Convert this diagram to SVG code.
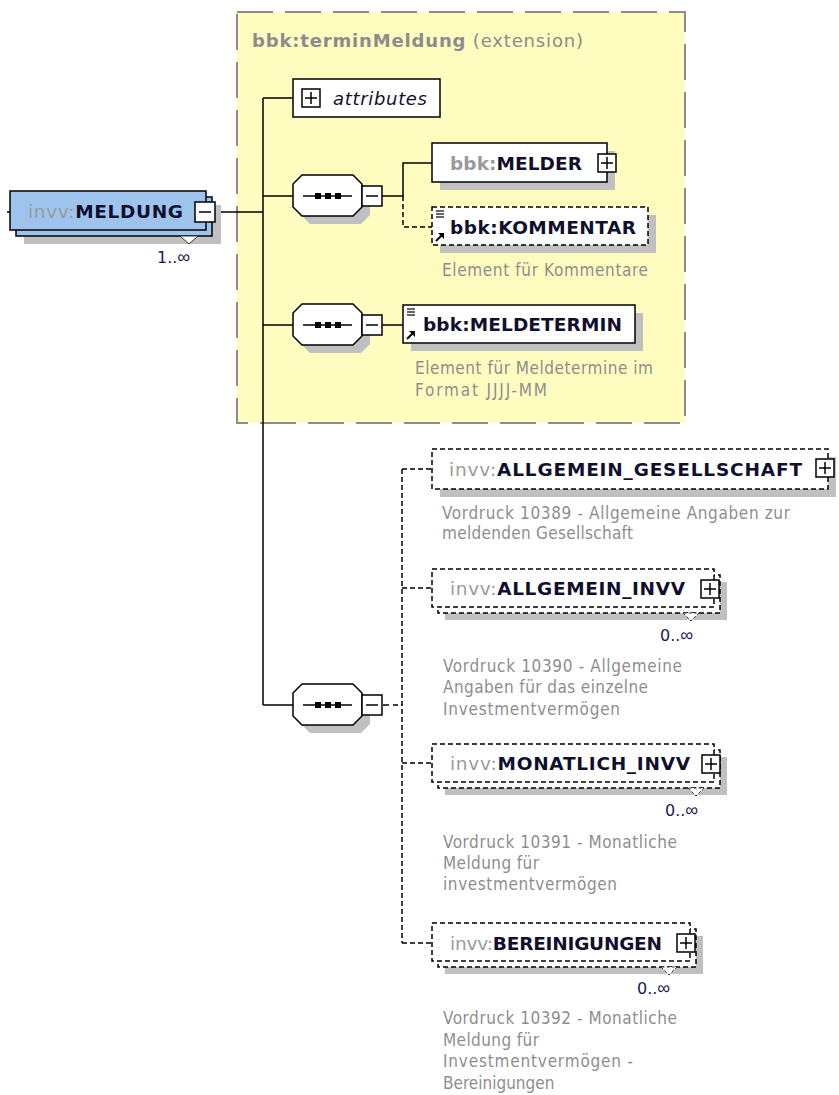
<svg xmlns="http://www.w3.org/2000/svg" width="839" height="1095" viewBox="0 0 839 1095">
<style>
.lbl{font-family:"DejaVu Sans","Liberation Sans",sans-serif;font-size:18.5px;font-weight:bold;fill:#10102e}
.pfx{fill:#9a9a9a}
.pfxn{fill:#9a9a9a;font-weight:normal}
.desc{font-family:"DejaVu Sans Condensed","DejaVu Sans",sans-serif;font-size:17px;fill:#8e8e8e}
.mult{font-family:"DejaVu Sans","Liberation Sans",sans-serif;font-size:16px;fill:#1a1a50}
.inf{font-family:"Liberation Sans",sans-serif;font-size:18px}
.box{fill:#fff;stroke:#000;stroke-width:1.5}
.dbox{fill:#fff;stroke:#000;stroke-width:1.5;stroke-dasharray:5 3}
.shadow{fill:#c0c0c0}
.pm{fill:#fff;stroke:#000;stroke-width:1.5}
.pml{stroke:#000;stroke-width:1.5;fill:none}
.conn{stroke:#000;stroke-width:1.5;fill:none}
.dconn{stroke:#000;stroke-width:1.5;fill:none;stroke-dasharray:5 3}
.notch{fill:#fff;stroke:#333;stroke-width:1}
</style>
<defs>
<g id="dots"><line x1="-25" y1="0" x2="24" y2="0" stroke="#000" stroke-width="1.5"/><rect x="-13" y="-3" width="6" height="6" fill="#000"/><rect x="-3" y="-3" width="6" height="6" fill="#000"/><rect x="7" y="-3" width="6" height="6" fill="#000"/></g>
<path id="oct" d="M9,0 H60 L69,9 V32 L60,41 H9 L0,32 V9 Z"/>
<g id="refico"><line x1="0" y1="0" x2="8" y2="0" stroke="#000" stroke-width="1.2"/><line x1="0" y1="3" x2="8" y2="3" stroke="#000" stroke-width="1.2"/><line x1="0" y1="6" x2="8" y2="6" stroke="#000" stroke-width="1.2"/></g>
<g id="arrow"><path d="M0,8 L6,2" stroke="#000" stroke-width="2"/><path d="M2,0 H8 V6 Z" fill="#000"/></g>
</defs>

<!-- extension area -->
<g id="extension">
<rect x="237" y="12" width="448" height="411" fill="#fffcc0" stroke="#8c8c8c" stroke-width="2" stroke-dasharray="36 12"/>
<text x="252" y="47" font-family="DejaVu Sans, Liberation Sans, sans-serif" font-size="18" fill="#8c8c8c" textLength="331"><tspan font-weight="bold">bbk:terminMeldung</tspan> (extension)</text>
</g>

<!-- connectors -->
<g id="connectors">
<line class="conn" x1="7" y1="212" x2="10" y2="212"/>
<line class="conn" x1="215" y1="212" x2="263" y2="212"/>
<line class="conn" x1="263" y1="98" x2="263" y2="705"/>
<line class="conn" x1="263" y1="98" x2="293" y2="98"/>
<line class="conn" x1="263" y1="196" x2="293" y2="196"/>
<line class="conn" x1="263" y1="325" x2="293" y2="325"/>
<line class="conn" x1="263" y1="705" x2="293" y2="705"/>
<polyline class="conn" points="382,196 403,196 403,163 432,163"/>
<polyline class="dconn" points="403,196 403,227 432,227"/>
<line class="conn" x1="382" y1="325" x2="403" y2="325"/>
<line class="conn" x1="383" y1="705" x2="389" y2="705"/>
<line class="dconn" x1="393" y1="705" x2="402" y2="705"/>
<line class="dconn" x1="402" y1="469" x2="402" y2="943"/>
<line class="dconn" x1="402" y1="469" x2="432" y2="469"/>
<line class="dconn" x1="402" y1="588" x2="432" y2="588"/>
<line class="dconn" x1="402" y1="763" x2="432" y2="763"/>
<line class="dconn" x1="402" y1="943" x2="432" y2="943"/>
</g>

<!-- root -->
<g id="MELDUNG">
<rect class="shadow" x="24" y="205" width="197" height="39"/>
<rect x="16" y="197" width="196" height="39" fill="#9ec4ee" stroke="#000" stroke-width="1.5"/>
<rect x="10" y="191" width="196" height="39" fill="#9ec4ee" stroke="#000" stroke-width="1.5"/>
<polygon class="notch" points="180,236 189,244 198,236"/>
<text class="lbl" x="28" y="218" textLength="155"><tspan class="pfxn">invv:</tspan>MELDUNG</text>
<rect class="pm" x="195" y="202" width="20" height="20"/>
<line class="pml" x1="199" y1="212" x2="211" y2="212"/>
<text class="mult" x="157" y="263">1..<tspan class="inf">∞</tspan></text>
</g>

<g id="attributes">
<rect class="box" x="293" y="79" width="147" height="38"/>
<rect class="pm" x="302" y="89" width="18" height="18"/>
<path class="pml" d="M305,98 H317 M311,92 V104"/>
<text x="333" y="105" font-family="DejaVu Sans, Liberation Sans, sans-serif" font-size="18" font-style="italic" fill="#10102e" textLength="94">attributes</text>
</g>

<g id="seq1">
<use href="#oct" x="301" y="183" class="shadow"/>
<use href="#oct" x="293" y="175" fill="#fff" stroke="#000" stroke-width="1.5"/>
<use href="#dots" x="328" y="196"/>
<rect class="pm" x="362" y="186" width="20" height="20"/>
<line class="pml" x1="366" y1="196" x2="378" y2="196"/>
</g>

<g id="MELDER">
<rect class="shadow" x="440" y="151" width="175" height="39"/>
<rect class="box" x="432" y="143" width="175" height="39"/>
<text class="lbl" x="450" y="170" textLength="132"><tspan class="pfx">bbk:</tspan>MELDER</text>
<rect class="pm" x="598" y="154" width="18" height="18"/>
<path class="pml" d="M601,163 H613 M607,157 V169"/>
</g>

<g id="KOMMENTAR">
<rect class="shadow" x="440" y="215" width="216" height="38"/>
<rect class="dbox" x="432" y="207" width="216" height="38"/>
<use href="#refico" x="436" y="211"/>
<use href="#arrow" x="436" y="233"/>
<text class="lbl" x="450" y="234" textLength="186">bbk:KOMMENTAR</text>
<text class="desc" x="442" y="276" textLength="206">Element für Kommentare</text>
</g>

<g id="seq2">
<use href="#oct" x="301" y="312" class="shadow"/>
<use href="#oct" x="293" y="304" fill="#fff" stroke="#000" stroke-width="1.5"/>
<use href="#dots" x="328" y="325"/>
<rect class="pm" x="362" y="315" width="20" height="20"/>
<line class="pml" x1="366" y1="325" x2="378" y2="325"/>
</g>

<g id="MELDETERMIN">
<rect class="shadow" x="411" y="313" width="232" height="38"/>
<rect class="box" x="403" y="305" width="232" height="38"/>
<use href="#refico" x="407" y="309"/>
<use href="#arrow" x="407" y="331"/>
<text class="lbl" x="423" y="331" textLength="199">bbk:MELDETERMIN</text>
<text class="desc" x="415" y="374" textLength="238">Element für Meldetermine im</text>
<text class="desc" x="415" y="396" textLength="132">Format JJJJ-MM</text>
</g>

<g id="seq3">
<use href="#oct" x="301" y="692" class="shadow"/>
<use href="#oct" x="293" y="684" fill="#fff" stroke="#000" stroke-width="1.5"/>
<use href="#dots" x="328" y="705"/>
<rect class="pm" x="362" y="695" width="20" height="20"/>
<line class="pml" x1="366" y1="705" x2="378" y2="705"/>
</g>

<g id="ALLGEMEIN_GESELLSCHAFT">
<rect class="shadow" x="440" y="457" width="396" height="40"/>
<rect class="dbox" x="432" y="449" width="396" height="40"/>
<text class="lbl" x="449" y="476" textLength="353"><tspan class="pfxn">invv:</tspan>ALLGEMEIN_GESELLSCHAFT</text>
<rect class="pm" x="816" y="459" width="18" height="18"/>
<path class="pml" d="M819,468 H831 M825,462 V474"/>
<text class="desc" x="442" y="519" textLength="348">Vordruck 10389 - Allgemeine Angaben zur</text>
<text class="desc" x="442" y="539" textLength="191">meldenden Gesellschaft</text>
</g>

<g id="ALLGEMEIN_INVV">
<rect class="shadow" x="445" y="582" width="282" height="38"/>
<rect class="dbox" x="438" y="575" width="282" height="38"/>
<rect class="dbox" x="432" y="569" width="282" height="38"/>
<polygon class="notch" points="683,613 691,621 699,613" stroke-dasharray="3 2"/>
<text class="lbl" x="450" y="595" textLength="235"><tspan class="pfxn">invv:</tspan>ALLGEMEIN_INVV</text>
<rect class="pm" x="701" y="580" width="18" height="18"/>
<path class="pml" d="M704,589 H716 M710,583 V595"/>
<text class="mult" x="660" y="641">0..<tspan class="inf">∞</tspan></text>
<text class="desc" x="443" y="672" textLength="239">Vordruck 10390 - Allgemeine</text>
<text class="desc" x="443" y="693" textLength="205">Angaben für das einzelne</text>
<text class="desc" x="443" y="715" textLength="177">Investmentvermögen</text>
</g>

<g id="MONATLICH_INVV">
<rect class="shadow" x="445" y="757" width="282" height="38"/>
<rect class="dbox" x="438" y="750" width="282" height="38"/>
<rect class="dbox" x="432" y="744" width="282" height="38"/>
<polygon class="notch" points="688,788 696,796 704,788" stroke-dasharray="3 2"/>
<text class="lbl" x="450" y="770" textLength="240"><tspan class="pfxn">invv:</tspan>MONATLICH_INVV</text>
<rect class="pm" x="702" y="755" width="18" height="18"/>
<path class="pml" d="M705,764 H717 M711,758 V770"/>
<text class="mult" x="665" y="816">0..<tspan class="inf">∞</tspan></text>
<text class="desc" x="443" y="848" textLength="234">Vordruck 10391 - Monatliche</text>
<text class="desc" x="443" y="869" textLength="96">Meldung für</text>
<text class="desc" x="443" y="890" textLength="174">investmentvermögen</text>
</g>

<g id="BEREINIGUNGEN">
<rect class="shadow" x="445" y="936" width="258" height="38"/>
<rect class="dbox" x="438" y="929" width="258" height="38"/>
<rect class="dbox" x="432" y="923" width="258" height="38"/>
<polygon class="notch" points="661,967 669,975 677,967" stroke-dasharray="3 2"/>
<text class="lbl" x="450" y="950" textLength="212"><tspan class="pfxn">invv:</tspan>BEREINIGUNGEN</text>
<rect class="pm" x="677" y="934" width="18" height="18"/>
<path class="pml" d="M680,943 H692 M686,937 V949"/>
<text class="mult" x="637" y="994">0..<tspan class="inf">∞</tspan></text>
<text class="desc" x="443" y="1024" textLength="234">Vordruck 10392 - Monatliche</text>
<text class="desc" x="443" y="1046" textLength="96">Meldung für</text>
<text class="desc" x="443" y="1067" textLength="190">Investmentvermögen -</text>
<text class="desc" x="443" y="1089">Bereinigungen</text>
</g>
</svg>
